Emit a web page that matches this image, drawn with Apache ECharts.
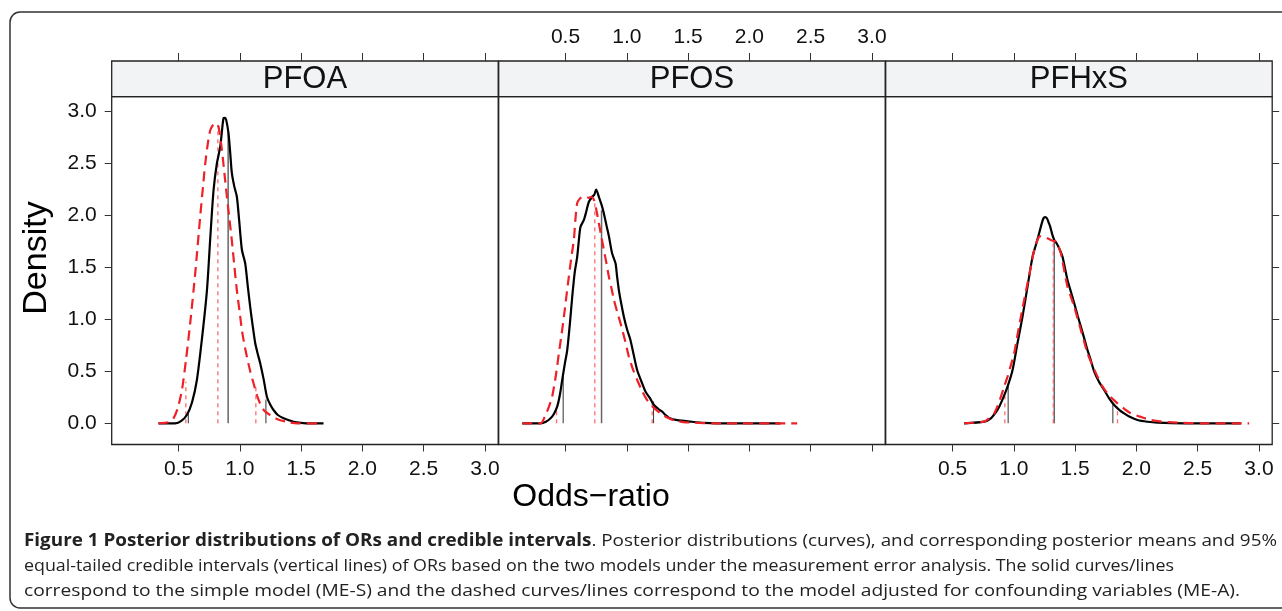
<!DOCTYPE html>
<html>
<head>
<meta charset="utf-8">
<script src="https://cdn.jsdelivr.net/npm/echarts@6/dist/echarts.min.js"></script>
<style>
html,body{margin:0;padding:0;background:#fff;}
#chart{width:1282px;height:611px;}
</style>
</head>
<body>
<div id="chart"></div>
<script>
// ---------- data ----------
const panels = ['PFOA', 'PFOS', 'PFHxS'];
const xTicks = [0.5, 1.0, 1.5, 2.0, 2.5, 3.0];
const yTicks = [0.0, 0.5, 1.0, 1.5, 2.0, 2.5, 3.0];

// ME-S (solid) and ME-A (dashed) posterior densities: [odds-ratio, density]
const pfoaS = [[0.337,0],[0.473,0],[0.52,0.02],[0.568,0.08],[0.61,0.2],[0.65,0.417],[0.69,0.8],[0.732,1.28],[0.76,1.8],[0.786,2.245],[0.813,2.50],[0.84,2.66],[0.855,2.82],[0.867,2.935],[0.879,2.94],[0.889,2.92],[0.908,2.79],[0.922,2.6],[0.935,2.41],[0.955,2.28],[0.976,2.18],[0.995,1.95],[1.017,1.67],[1.044,1.54],[1.065,1.32],[1.085,1.12],[1.105,0.94],[1.126,0.77],[1.146,0.67],[1.166,0.58],[1.195,0.42],[1.221,0.256],[1.248,0.18],[1.275,0.128],[1.31,0.08],[1.357,0.048],[1.40,0.03],[1.438,0.015],[1.5,0.005],[1.574,0],[1.683,0]];
const pfoaA = [[0.337,0],[0.42,0.01],[0.459,0.048],[0.495,0.15],[0.528,0.32],[0.56,0.6],[0.595,0.96],[0.636,1.44],[0.677,1.99],[0.70,2.28],[0.718,2.50],[0.74,2.7],[0.759,2.82],[0.78,2.87],[0.8,2.89],[0.826,2.855],[0.854,2.63],[0.875,2.4],[0.895,2.18],[0.915,1.97],[0.935,1.76],[0.955,1.52],[0.976,1.28],[1.0,1.06],[1.017,0.90],[1.037,0.76],[1.058,0.64],[1.085,0.5],[1.112,0.385],[1.14,0.27],[1.166,0.19],[1.2,0.12],[1.248,0.08],[1.29,0.05],[1.33,0.03],[1.40,0.01],[1.466,0],[1.63,0]];
const pfosS = [[0.147,0],[0.296,0],[0.34,0.015],[0.378,0.048],[0.405,0.09],[0.432,0.16],[0.455,0.28],[0.473,0.417],[0.494,0.57],[0.514,0.705],[0.535,0.95],[0.555,1.22],[0.575,1.45],[0.595,1.60],[0.608,1.75],[0.622,1.89],[0.65,1.957],[0.67,2.04],[0.69,2.13],[0.718,2.18],[0.735,2.2],[0.75,2.25],[0.772,2.18],[0.795,2.1],[0.813,2.02],[0.835,1.9],[0.854,1.80],[0.88,1.636],[0.908,1.54],[0.92,1.42],[0.935,1.283],[0.955,1.15],[0.976,1.026],[1.003,0.9],[1.03,0.80],[1.058,0.65],[1.085,0.51],[1.12,0.4],[1.153,0.304],[1.19,0.24],[1.221,0.176],[1.255,0.14],[1.289,0.112],[1.315,0.08],[1.343,0.054],[1.411,0.03],[1.52,0.016],[1.629,0.005],[1.846,0],[2.254,0]];
const pfosA = [[0.147,0],[0.296,0],[0.337,0.08],[0.365,0.16],[0.391,0.256],[0.42,0.45],[0.446,0.674],[0.467,0.85],[0.487,1.026],[0.507,1.22],[0.527,1.41],[0.548,1.6],[0.568,1.764],[0.58,1.95],[0.595,2.117],[0.615,2.16],[0.636,2.175],[0.655,2.17],[0.671,2.175],[0.69,2.17],[0.71,2.18],[0.732,2.15],[0.752,2.05],[0.772,1.925],[0.792,1.8],[0.813,1.668],[0.834,1.54],[0.854,1.41],[0.875,1.3],[0.895,1.187],[0.922,1.07],[0.949,0.962],[0.985,0.8],[1.017,0.641],[1.05,0.52],[1.085,0.417],[1.125,0.31],[1.166,0.224],[1.22,0.15],[1.275,0.096],[1.33,0.055],[1.384,0.03],[1.46,0.012],[1.547,0.006],[1.71,0],[2.39,0]];
const pfhxsS = [[0.595,0],[0.759,0.016],[0.813,0.048],[0.85,0.1],[0.881,0.16],[0.915,0.25],[0.949,0.353],[0.99,0.513],[1.03,0.77],[1.071,1.026],[1.112,1.315],[1.153,1.604],[1.18,1.716],[1.2,1.8],[1.221,1.893],[1.242,1.973],[1.256,1.985],[1.27,1.973],[1.285,1.93],[1.297,1.893],[1.313,1.82],[1.33,1.764],[1.35,1.73],[1.37,1.684],[1.397,1.604],[1.418,1.49],[1.438,1.379],[1.465,1.27],[1.493,1.155],[1.52,1.04],[1.547,0.93],[1.574,0.82],[1.601,0.705],[1.63,0.6],[1.656,0.497],[1.695,0.4],[1.737,0.32],[1.778,0.24],[1.819,0.176],[1.86,0.13],[1.9,0.096],[1.95,0.06],[2.009,0.032],[2.09,0.015],[2.172,0.006],[2.39,0],[2.852,0]];
const pfhxsA = [[0.595,0],[0.759,0.016],[0.8,0.05],[0.84,0.096],[0.868,0.17],[0.895,0.256],[0.92,0.35],[0.949,0.449],[0.976,0.56],[1.003,0.674],[1.03,0.85],[1.058,1.026],[1.085,1.19],[1.112,1.347],[1.14,1.51],[1.166,1.668],[1.185,1.74],[1.207,1.796],[1.228,1.8],[1.248,1.796],[1.275,1.78],[1.302,1.764],[1.322,1.755],[1.343,1.748],[1.365,1.7],[1.384,1.636],[1.41,1.48],[1.438,1.315],[1.465,1.22],[1.493,1.122],[1.52,1.01],[1.547,0.898],[1.574,0.786],[1.601,0.674],[1.64,0.56],[1.683,0.449],[1.72,0.36],[1.764,0.288],[1.805,0.235],[1.846,0.192],[1.9,0.14],[1.955,0.096],[2.04,0.06],[2.118,0.032],[2.22,0.015],[2.335,0.006],[2.526,0],[2.92,0]];

// posterior mean and 95% CI: [lower, mean, upper] and heights of their vertical lines
const pfoaSint = [0.58, 0.905, 1.213];  const pfoaSh = [0.10, 2.80, 0.23];
const pfoaAint = [0.56, 0.821, 1.131];  const pfoaAh = [0.40, 2.87, 0.37];
const pfosSint = [0.481, 0.794, 1.218]; const pfosSh = [0.45, 2.05, 0.21];
const pfosAint = [0.427, 0.739, 1.207]; const pfosAh = [0.14, 2.15, 0.20];
const pfhxsSint = [0.954, 1.33, 1.808]; const pfhxsSh = [0.353, 1.76, 0.19];
const pfhxsAint = [0.927, 1.322, 1.846]; const pfhxsAh = [0.28, 1.76, 0.16];

const curvesS = [pfoaS, pfosS, pfhxsS];
const curvesA = [pfoaA, pfosA, pfhxsA];
const intS = [pfoaSint, pfosSint, pfhxsSint];
const hS = [pfoaSh, pfosSh, pfhxsSh];
const intA = [pfoaAint, pfosAint, pfhxsAint];
const hA = [pfoaAh, pfosAh, pfhxsAh];

const captionBold = 'Figure 1 Posterior distributions of ORs and credible intervals';
const captionLines = [
  '. Posterior distributions (curves), and corresponding posterior means and 95%',
  'equal-tailed credible intervals (vertical lines) of ORs based on the two models under the measurement error analysis. The solid curves/lines',
  'correspond to the simple model (ME-S) and the dashed curves/lines correspond to the model adjusted for confounding variables (ME-A).'
];

// ---------- layout ----------
const X_MIN = -0.045, X_MAX = 3.108, Y_MIN = -0.204, Y_MAX = 3.143;
const panelLeft = [111.7, 498.7, 885.7];
const panelW = 386.5;
const panelTop = 96.7, panelH = 347.8;
const stripTop = 61, stripH = 35.7;
const FONT = '"Liberation Sans", Arial, sans-serif';
const RED = '#ee2128';
const TICKFS = 21;

const grids = [], xAxes = [], yAxes = [], series = [];
panels.forEach((p, i) => {
  grids.push({left: panelLeft[i], top: panelTop, width: panelW, height: panelH,
    show: true, borderColor: '#222', borderWidth: 1.3, backgroundColor: '#fff'});
});
panels.forEach((p, i) => {
  grids.push({left: panelLeft[i], top: stripTop, width: panelW, height: stripH,
    show: true, borderColor: '#222', borderWidth: 1.3, backgroundColor: '#f2f3f5'});
});

const tickLine = {color: '#333', width: 1};
panels.forEach((p, i) => {
  xAxes.push({type: 'value', gridIndex: i, position: 'bottom', min: X_MIN, max: X_MAX,
    axisLine: {show: false, onZero: false}, splitLine: {show: false},
    axisTick: {show: true, length: 7, lineStyle: tickLine, customValues: xTicks},
    axisLabel: {show: i !== 1, customValues: xTicks, margin: 14, fontSize: TICKFS, color: '#111',
      fontFamily: FONT, formatter: v => v.toFixed(1)}});
  yAxes.push({type: 'value', gridIndex: i, position: i === 2 ? 'right' : 'left', min: Y_MIN, max: Y_MAX,
    axisLine: {show: false, onZero: false}, splitLine: {show: false},
    axisTick: {show: i !== 1, length: 7, lineStyle: tickLine, customValues: yTicks},
    axisLabel: {show: i === 0, customValues: yTicks, margin: 15, fontSize: TICKFS, color: '#111',
      fontFamily: FONT, formatter: v => v.toFixed(1)}});
});
panels.forEach((p, i) => {
  xAxes.push({type: 'value', gridIndex: 3 + i, position: 'top', min: X_MIN, max: X_MAX,
    axisLine: {show: false, onZero: false}, splitLine: {show: false},
    axisTick: {show: true, length: 8, lineStyle: tickLine, customValues: xTicks},
    axisLabel: {show: i === 1, customValues: xTicks, margin: 13, fontSize: TICKFS, color: '#111',
      fontFamily: FONT, formatter: v => v.toFixed(1)}});
  yAxes.push({type: 'value', gridIndex: 3 + i, min: 0, max: 1, show: false});
});

panels.forEach((p, i) => {
  intS[i].forEach((x, k) => {
    series.push({type: 'line', xAxisIndex: i, yAxisIndex: i, symbol: 'none', silent: true,
      data: [[x, 0], [x, hS[i][k]]],
      lineStyle: {color: k === 1 ? '#666' : '#444', width: k === 1 ? 1.5 : 1.1}});
  });
  intA[i].forEach((x, k) => {
    series.push({type: 'line', xAxisIndex: i, yAxisIndex: i, symbol: 'none', silent: true,
      data: [[x, 0], [x, hA[i][k]]],
      lineStyle: {color: '#ff6a6a', width: 1.3, type: [4, 4]}});
  });
  series.push({type: 'line', name: p + ' ME-S', xAxisIndex: i, yAxisIndex: i, symbol: 'none',
    smooth: 0.25, data: curvesS[i], lineStyle: {color: '#000', width: 2.2}});
  series.push({type: 'line', name: p + ' ME-A', xAxisIndex: i, yAxisIndex: i, symbol: 'none',
    smooth: 0.25, data: curvesA[i], lineStyle: {color: RED, width: 2.2, type: [10, 6]}});
});

const graphics = [
  {type: 'rect', shape: {x: 10, y: 12, width: 1300, height: 596, r: 10}, silent: true,
    style: {fill: 'none', stroke: '#333', lineWidth: 1.5}, z: -1},
  {type: 'text', x: 37, y: 258, rotation: Math.PI / 2, silent: true,
    style: {text: 'Density', fontSize: 34, fontFamily: FONT, fill: '#000', align: 'center', verticalAlign: 'middle'}},
  {type: 'text', x: 591, y: 497, silent: true,
    style: {text: 'Odds\u2212ratio', fontSize: 32, fontFamily: FONT, fill: '#000', align: 'center', verticalAlign: 'middle'}}
];
panels.forEach((p, i) => {
  graphics.push({type: 'text', x: panelLeft[i] + panelW / 2, y: stripTop + stripH / 2 + 1, silent: true, z: 10,
    style: {text: p, fontSize: 31, fontFamily: FONT, fill: '#111', align: 'center', verticalAlign: 'middle'}});
});

// caption: horizontally fit each line to the width it takes in the figure
const CAPFONT = '"Open Sans", sans-serif';
const CAPFS = 17;
const capWidths = [1253, 1150, 1216];
const ctx = document.createElement('canvas').getContext('2d');
function textW(t, bold) {
  ctx.font = (bold ? 'bold ' : '') + CAPFS + 'px ' + CAPFONT;
  return ctx.measureText(t).width;
}
function addCaption() {
  const ws = [textW(captionBold, true) + textW(captionLines[0], false),
              textW(captionLines[1], false), textW(captionLines[2], false)];
  const ys = [541, 566, 591];
  ys.forEach((y, k) => {
    const s = capWidths[k] / ws[k];
    const style = k === 0
      ? {text: '{b|' + captionBold + '}{n|' + captionLines[0] + '}', verticalAlign: 'middle',
         rich: {b: {fontSize: CAPFS, fontWeight: 'bold', fontFamily: CAPFONT, fill: '#222'},
                n: {fontSize: CAPFS, fontFamily: CAPFONT, fill: '#222'}}}
      : {text: captionLines[k], fontSize: CAPFS, fontFamily: CAPFONT, fill: '#222', verticalAlign: 'middle'};
    graphics.push({type: 'text', x: 24, y: y, scaleX: s, silent: true, style: style});
  });
}
addCaption();

const chart = echarts.init(document.getElementById('chart'), null, {renderer: 'canvas'});
chart.setOption({
  animation: false,
  backgroundColor: '#fff',
  grid: grids,
  xAxis: xAxes,
  yAxis: yAxes,
  series: series,
  graphic: graphics
});
</script>
</body>
</html>
